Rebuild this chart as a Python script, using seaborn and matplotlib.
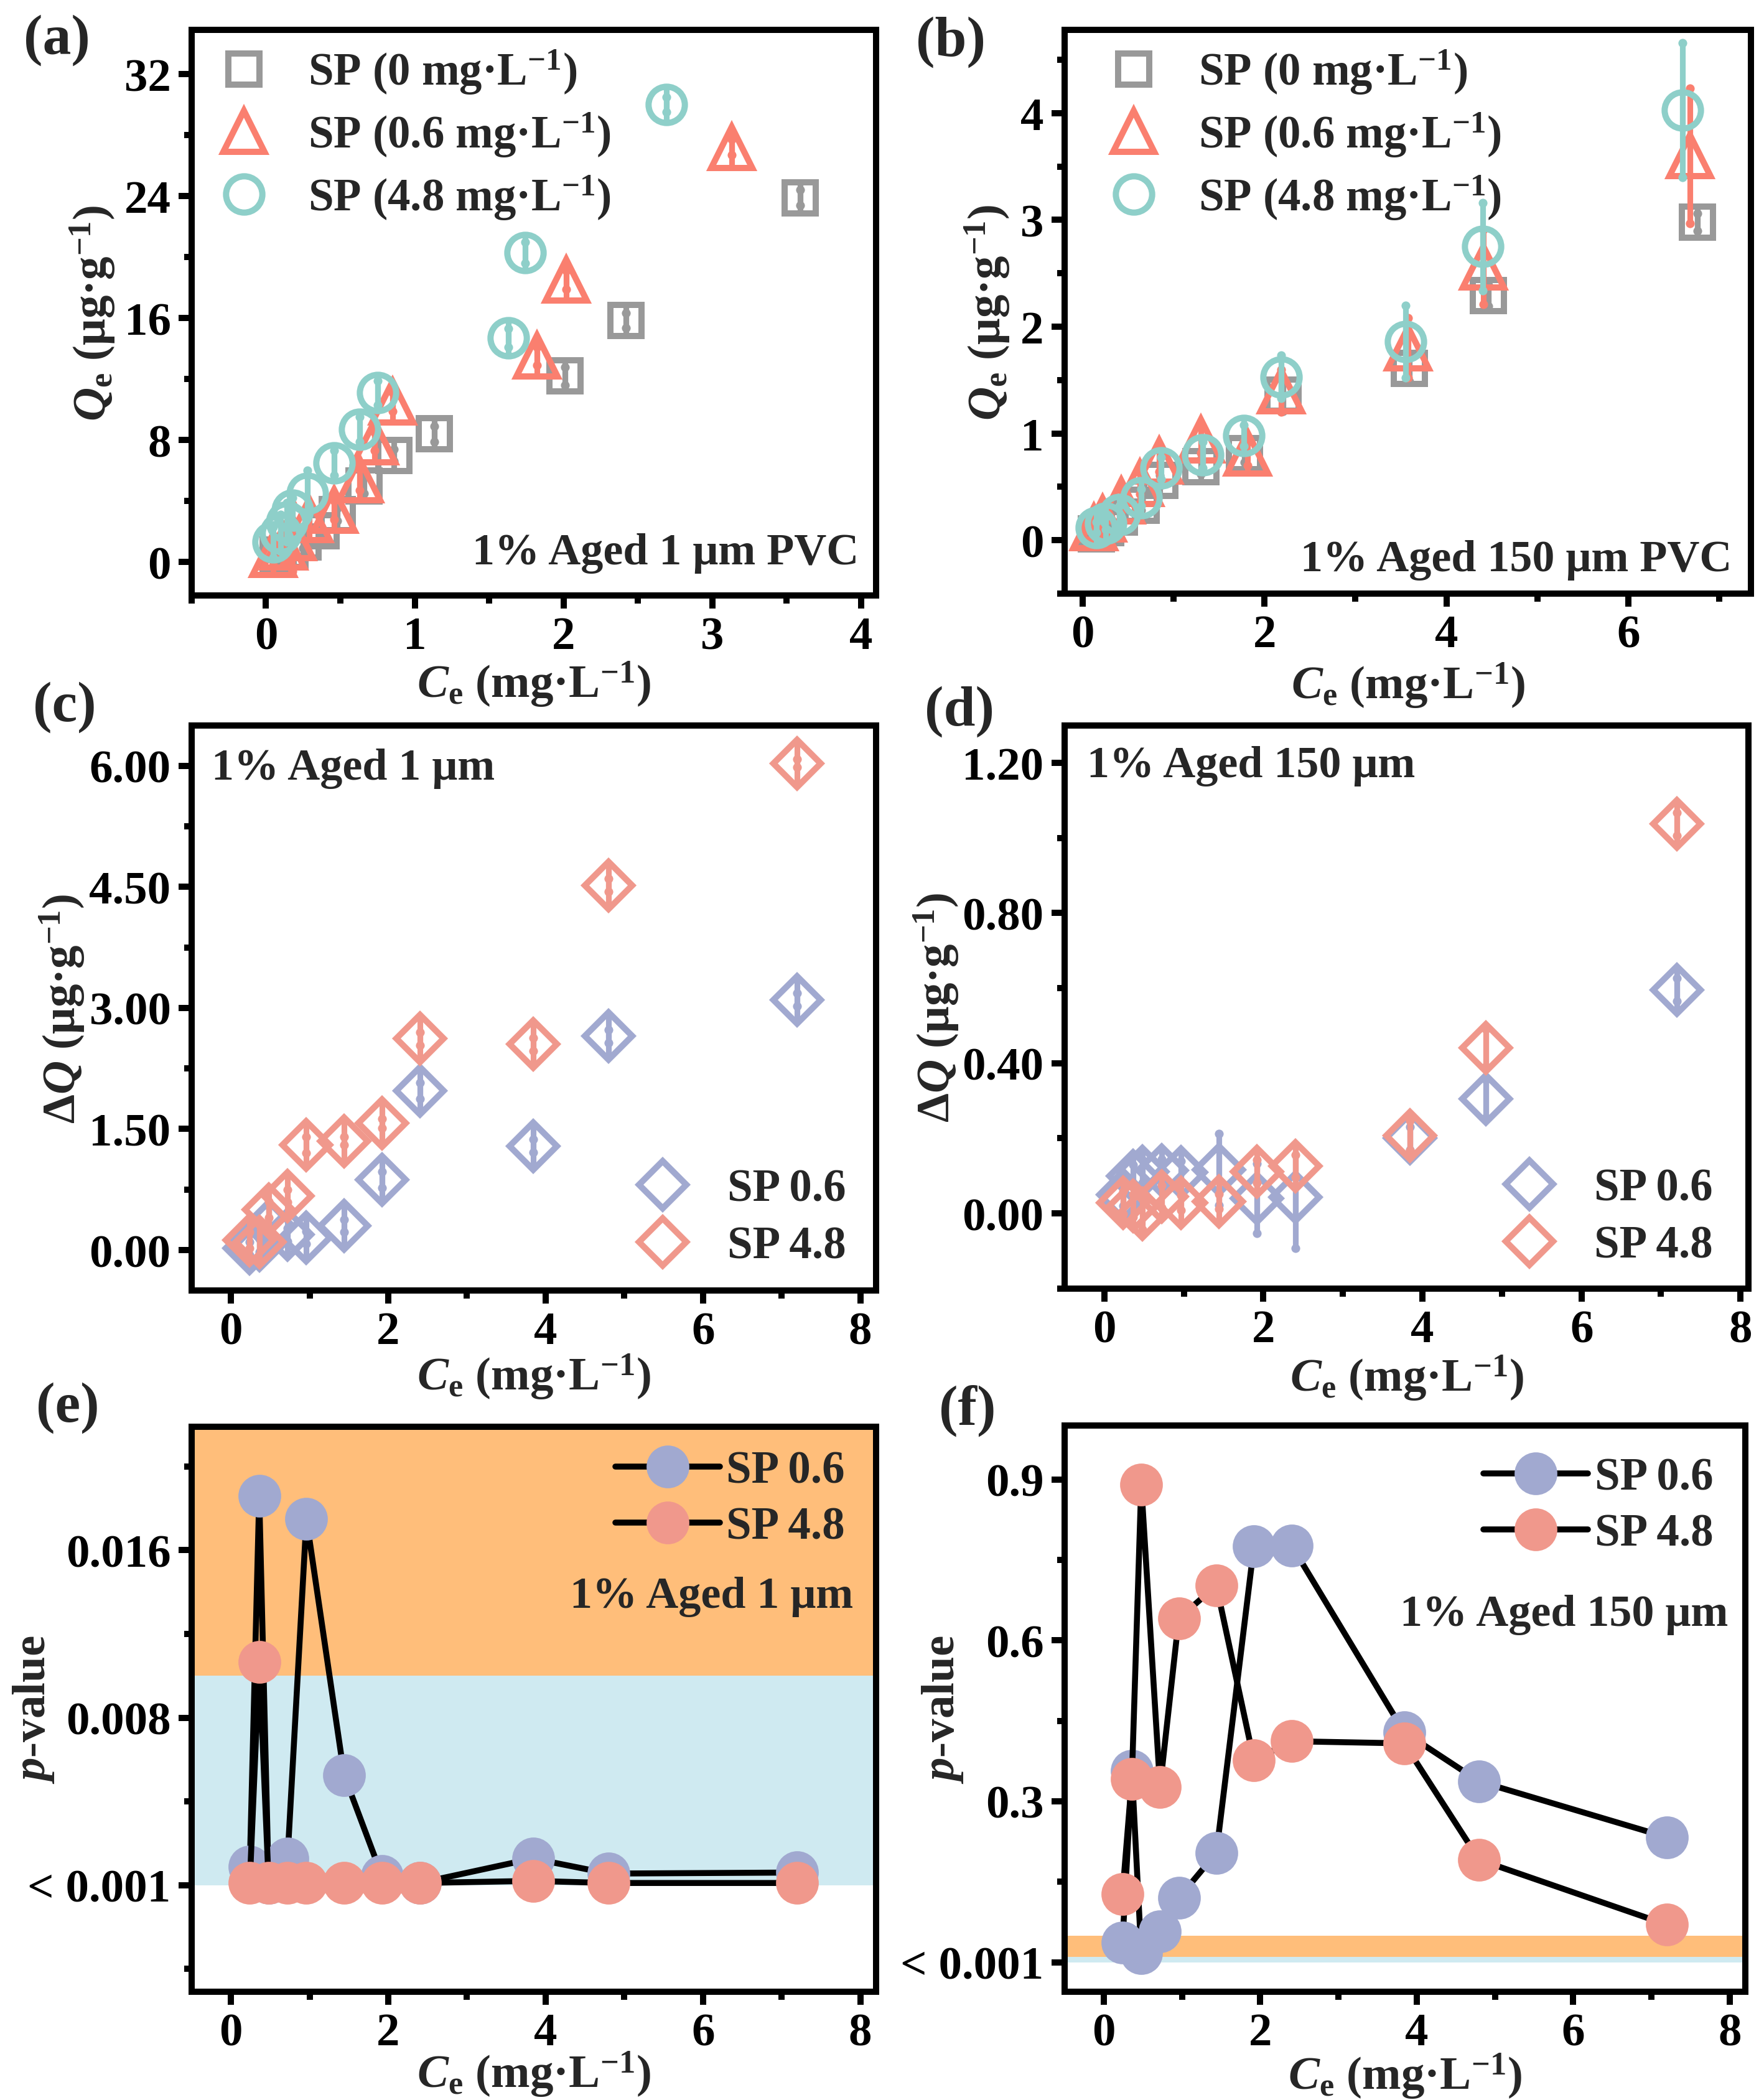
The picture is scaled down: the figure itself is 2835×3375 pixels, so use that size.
import numpy as np
import pandas as pd
import matplotlib
matplotlib.use('Agg')
import matplotlib.pyplot as plt
import seaborn as sns
from matplotlib.ticker import AutoMinorLocator, FixedLocator, FixedFormatter, MultipleLocator, FormatStrFormatter
from matplotlib.lines import Line2D

# ---------------- data ----------------
# (a) 1% aged 1 um PVC isotherms
a_x_sp0 = [0.08, 0.16, 0.25, 0.37, 0.48, 0.66, 0.86, 1.13, 2.01, 2.42, 3.59]
a_y_sp0 = [0.45, 0.7, 1.3, 2.05, 3.1, 5.0, 7.0, 8.4, 12.2, 15.85, 23.9]
a_e_sp0 = [0.3, 0.3, 0.4, 0.3, 0.4, 0.5, 0.4, 0.5, 0.6, 0.5, 0.5]
a_x_sp06 = [0.05, 0.12, 0.18, 0.29, 0.46, 0.63, 0.73, 0.85, 1.82, 2.02, 3.13]
a_y_sp06 = [0.5, 1.0, 1.6, 2.8, 3.4, 5.4, 7.9, 10.5, 13.5, 18.5, 27.2]
a_e_sp06 = [0.5, 1.2, 2.2, 0.6, 0.6, 0.7, 0.6, 0.6, 0.6, 0.6, 0.5]
a_x_sp48 = [0.05, 0.10, 0.14, 0.18, 0.28, 0.46, 0.63, 0.75, 1.63, 1.74, 2.69]
a_y_sp48 = [1.3, 1.9, 2.6, 3.4, 4.5, 6.5, 8.7, 11.1, 14.7, 20.3, 30.0]
a_e_sp48 = [1.0, 1.2, 1.3, 0.8, 1.5, 0.8, 0.8, 0.8, 0.6, 0.7, 0.5]

# (b) 1% aged 150 um PVC isotherms
b_x_sp0 = [0.15, 0.25, 0.40, 0.64, 0.85, 1.30, 1.78, 2.20, 3.59, 4.46, 6.76]
b_y_sp0 = [0.06, 0.12, 0.22, 0.33, 0.56, 0.69, 0.81, 1.36, 1.61, 2.29, 2.98]
b_e_sp0 = [0.02, 0.03, 0.05, 0.05, 0.05, 0.07, 0.08, 0.15, 0.12, 0.10, 0.08]
b_x_sp06 = [0.12, 0.22, 0.42, 0.63, 0.84, 1.30, 1.81, 2.18, 3.58, 4.41, 6.68]
b_y_sp06 = [0.12, 0.20, 0.37, 0.53, 0.74, 0.94, 0.82, 1.40, 1.80, 2.56, 3.60]
b_e_sp06 = [0.05, 0.08, 0.10, 0.10, 0.10, 0.12, 0.12, 0.20, 0.28, 0.35, 0.63]
b_x_sp48 = [0.15, 0.25, 0.40, 0.645, 0.86, 1.32, 1.77, 2.185, 3.55, 4.40, 6.60]
b_y_sp48 = [0.12, 0.16, 0.24, 0.40, 0.675, 0.80, 0.98, 1.53, 1.86, 2.75, 4.03]
b_e_sp48 = [0.05, 0.06, 0.08, 0.08, 0.10, 0.12, 0.10, 0.20, 0.34, 0.41, 0.63]

# (c)-(f) common concentrations
c0 = [0.24, 0.36, 0.48, 0.72, 0.96, 1.44, 1.92, 2.40, 3.84, 4.80, 7.20]

# (c) delta Q, 1 um
c_y_sp06 = [0.02, 0.06, 0.30, 0.19, 0.155, 0.30, 0.87, 1.97, 1.29, 2.65, 3.10]
c_e_sp06 = [0.08, 0.08, 0.25, 0.08, 0.08, 0.08, 0.10, 0.10, 0.08, 0.08, 0.08]
c_y_sp48 = [0.12, 0.10, 0.50, 0.67, 1.30, 1.35, 1.57, 2.62, 2.55, 4.52, 6.03]
c_e_sp48 = [0.10, 0.25, 0.10, 0.08, 0.10, 0.05, 0.06, 0.08, 0.08, 0.08, 0.05]

# (d) delta Q, 150 um
d_y_sp06 = [0.05, 0.10, 0.112, 0.114, 0.109, 0.117, 0.04, 0.043, 0.20, 0.306, 0.596]
d_e_sp06 = [0.03, 0.03, 0.03, 0.03, 0.03, 0.095, 0.093, 0.136, 0.03, 0.05, 0.03]
d_y_sp48 = [0.029, 0.02, -0.002, 0.045, 0.029, 0.032, 0.112, 0.126, 0.207, 0.441, 1.037]
d_e_sp48 = [0.03, 0.03, 0.04, 0.03, 0.02, 0.02, 0.03, 0.03, 0.04, 0.05, 0.03]

# (e) p-values, 1 um
e_p_sp06 = [0.00087, 0.0186, 0.0001, 0.00127, 0.0175, 0.00524, 0.00044, 0.0001, 0.00127, 0.00055, 0.0006]
e_p_sp48 = [0.0001, 0.01066, 0.0001, 0.0001, 0.0001, 0.0001, 0.0001, 0.0001, 0.0002, 0.0001, 0.0001]

# (f) p-values, 150 um
f_p_sp06 = [0.0365, 0.357, 0.017, 0.058, 0.12, 0.204, 0.775, 0.777, 0.429, 0.337, 0.233]
f_p_sp48 = [0.127, 0.342, 0.89, 0.327, 0.641, 0.702, 0.376, 0.412, 0.408, 0.191, 0.07]

# significance bands
band_low = [0.0, 0.01]
band_high = [0.01, 0.05]

# ---------------- style ----------------
C_GRAY = '#999999'
C_RED = '#FA7F6F'
C_TEAL = '#8ECFC9'
C_BLUE = '#A1A9D0'
C_PINK = '#F0988C'
C_BAND_BLUE = '#CFEAF1'
C_BAND_OR = '#FFBE7A'

sns.set_theme(style='ticks')
LW = 2.4
plt.rcParams.update({
    'font.family': ['Liberation Serif', 'DejaVu Serif'],
    'font.weight': 'bold',
    'axes.labelweight': 'bold',
    'mathtext.fontset': 'custom',
    'mathtext.rm': 'Liberation Serif:bold',
    'mathtext.it': 'Liberation Serif:italic:bold',
    'mathtext.bf': 'Liberation Serif:bold',
    'axes.edgecolor': 'black',
    'axes.linewidth': LW,
    'xtick.color': 'black',
    'ytick.color': 'black',
    'xtick.direction': 'out',
    'ytick.direction': 'out',
    'xtick.major.width': LW,
    'ytick.major.width': LW,
    'xtick.minor.width': LW,
    'ytick.minor.width': LW,
    'xtick.major.size': 5,
    'ytick.major.size': 5,
    'xtick.minor.size': 3,
    'ytick.minor.size': 3,
    'xtick.labelsize': 18,
    'ytick.labelsize': 18,
    'axes.labelsize': 18,
    'legend.fontsize': 17.5,
    'axes.facecolor': 'white',
})

fig = plt.figure(figsize=(9.45, 11.2533), dpi=300)
rects = {
    'a': [0.1086, 0.7162, 0.3880, 0.2693],
    'b': [0.6035, 0.7171, 0.3891, 0.2684],
    'c': [0.1086, 0.3854, 0.3880, 0.2690],
    'd': [0.6035, 0.3863, 0.3877, 0.2681],
    'e': [0.1086, 0.0515, 0.3880, 0.2690],
    'f': [0.6035, 0.0515, 0.3859, 0.2695],
}
axs = {k: fig.add_axes(v) for k, v in rects.items()}

XLAB = r'$\mathit{C}_\mathrm{e}$ (mg·L$^{-1}$)'
QLAB = r'$\mathit{Q}_\mathrm{e}$ (μg·g$^{-1}$)'
DQLAB = r'Δ$\mathit{Q}$ (μg·g$^{-1}$)'
PLAB = r'$\mathit{p}$-value'
ANN = 17.3


def series(ax, x, y, e, color, marker, ms, vms, z):
    x = np.asarray(x); y = np.asarray(y); e = np.asarray(e)
    ax.errorbar(x, y, yerr=e, fmt='none', ecolor=color, elinewidth=2.2,
                capsize=0, zorder=z)
    ax.plot(x, y + e, ls='none', marker='o', ms=3.4, color=color, mew=0, zorder=z)
    ax.plot(x, y - e, ls='none', marker='o', ms=3.4, color=color, mew=0, zorder=z)
    ax.plot(x, y, ls='none', marker='|', ms=vms, mew=2.2, color=color, zorder=z)
    ax.plot(x, y, ls='none', marker=marker, ms=ms, mfc='none', mec=color,
            mew=2.4, zorder=z + 0.1)


def style_axis(ax, ylx, xly):
    ax.xaxis.set_minor_locator(AutoMinorLocator(2))
    ax.yaxis.set_minor_locator(AutoMinorLocator(2))
    ax.tick_params(top=False, right=False, which='both', pad=3)
    for s in ax.spines.values():
        s.set_visible(True)
        s.set_linewidth(LW)
        s.set_color('black')
    for lab in ax.get_xticklabels() + ax.get_yticklabels():
        lab.set_fontweight('bold')
    ax.yaxis.label.set_va('center')
    ax.xaxis.label.set_va('center')
    ax.yaxis.set_label_coords(ylx, 0.5)
    ax.xaxis.set_label_coords(0.5, xly)


# ---- (a)
ax = axs['a']
series(ax, a_x_sp0, a_y_sp0, a_e_sp0, C_GRAY, 's', 12, 12, 3)
series(ax, a_x_sp06, a_y_sp06, a_e_sp06, C_RED, '^', 16, 16, 4)
series(ax, a_x_sp48, a_y_sp48, a_e_sp48, C_TEAL, 'o', 14, 14, 5)
ax.set_xlim(-0.5, 4.1)
ax.set_ylim(-2.2, 34.9)
ax.xaxis.set_major_locator(MultipleLocator(1))
ax.yaxis.set_major_locator(MultipleLocator(8))
ax.set_xlabel(XLAB)
ax.set_ylabel(QLAB)
ax.text(0.975, 0.075, '1% Aged 1 μm PVC', transform=ax.transAxes, ha='right',
        va='center', fontsize=ANN, fontweight='bold')

# ---- (b)
ax = axs['b']
series(ax, b_x_sp0, b_y_sp0, b_e_sp0, C_GRAY, 's', 12, 12, 3)
series(ax, b_x_sp06, b_y_sp06, b_e_sp06, C_RED, '^', 16, 16, 4)
series(ax, b_x_sp48, b_y_sp48, b_e_sp48, C_TEAL, 'o', 14, 14, 5)
ax.set_xlim(-0.2, 7.35)
ax.set_ylim(-0.5, 4.78)
ax.xaxis.set_major_locator(MultipleLocator(2))
ax.yaxis.set_major_locator(MultipleLocator(1))
ax.set_xlabel(XLAB)
ax.set_ylabel(QLAB)
ax.text(0.972, 0.06, '1% Aged 150 μm PVC', transform=ax.transAxes, ha='right',
        va='center', fontsize=ANN, fontweight='bold')

for k, anchor in (('a', (0.01, 0.985)), ('b', (0.035, 0.985))):
    h = [Line2D([], [], ls='none', marker='s', ms=12, mfc='none', mec=C_GRAY, mew=2.4),
         Line2D([], [], ls='none', marker='^', ms=16, mfc='none', mec=C_RED, mew=2.4),
         Line2D([], [], ls='none', marker='o', ms=14, mfc='none', mec=C_TEAL, mew=2.4)]
    labs = ['SP (0 mg·L$^{-1}$)', 'SP (0.6 mg·L$^{-1}$)', 'SP (4.8 mg·L$^{-1}$)']
    axs[k].legend(h, labs, loc='upper left', bbox_to_anchor=anchor, frameon=False,
                  handlelength=1.6, handletextpad=0.62, labelspacing=0.31,
                  borderaxespad=0, borderpad=0.2, prop={'weight': 'bold', 'size': 17.5})

# ---- (c)
ax = axs['c']
series(ax, c0, c_y_sp06, c_e_sp06, C_BLUE, 'D', 13, 18.4, 3)
series(ax, c0, c_y_sp48, c_e_sp48, C_PINK, 'D', 13, 18.4, 4)
ax.set_xlim(-0.5, 8.2)
ax.set_ylim(-0.5, 6.5)
ax.xaxis.set_major_locator(MultipleLocator(2))
ax.yaxis.set_major_locator(MultipleLocator(1.5))
ax.yaxis.set_major_formatter(FormatStrFormatter('%.2f'))
ax.set_xlabel(XLAB)
ax.set_ylabel(DQLAB)
ax.text(0.029, 0.924, '1% Aged 1 μm', transform=ax.transAxes, ha='left',
        va='center', fontsize=ANN, fontweight='bold')

# ---- (d)
ax = axs['d']
series(ax, c0, d_y_sp06, d_e_sp06, C_BLUE, 'D', 13, 18.4, 3)
series(ax, c0, d_y_sp48, d_e_sp48, C_PINK, 'D', 13, 18.4, 4)
ax.set_xlim(-0.5, 8.1)
ax.set_ylim(-0.2, 1.3)
ax.xaxis.set_major_locator(MultipleLocator(2))
ax.yaxis.set_major_locator(MultipleLocator(0.4))
ax.yaxis.set_major_formatter(FormatStrFormatter('%.2f'))
ax.set_xlabel(XLAB)
ax.set_ylabel(DQLAB)
ax.text(0.033, 0.928, '1% Aged 150 μm', transform=ax.transAxes, ha='left',
        va='center', fontsize=ANN, fontweight='bold')

for k, anchor in (('c', (0.969, 0.024)), ('d', (0.961, 0.022))):
    h = [Line2D([], [], ls='none', marker='D', ms=13, mfc='none', mec=C_BLUE, mew=2.4),
         Line2D([], [], ls='none', marker='D', ms=13, mfc='none', mec=C_PINK, mew=2.4)]
    axs[k].legend(h, ['SP 0.6', 'SP 4.8'], loc='lower right', bbox_to_anchor=anchor,
                  frameon=False, handlelength=1.6, handletextpad=0.62, labelspacing=0.33,
                  borderaxespad=0, borderpad=0.2, prop={'weight': 'bold', 'size': 17.5})

# ---- (e), (f)
for k, p06, p48, ylim, ticks, tlabs, txt, txy, lanchor in (
        ('e', e_p_sp06, e_p_sp48, (-0.0051, 0.0219), [0, 0.008, 0.016],
         ['< 0.001', '0.008', '0.016'], '1% Aged 1 μm', (0.967, 0.70), (0.968, 0.975)),
        ('f', f_p_sp06, f_p_sp48, (-0.055, 1.0), [0, 0.3, 0.6, 0.9],
         ['< 0.001', '0.3', '0.6', '0.9'], '1% Aged 150 μm', (0.975, 0.667), (0.966, 0.961))):
    ax = axs[k]
    for lo, hi, col in zip(band_low, band_high, [C_BAND_BLUE, C_BAND_OR]):
        ax.axhspan(lo, hi, color=col, lw=0, zorder=0)
    df = pd.DataFrame({'x': c0 * 2, 'p': list(p06) + list(p48),
                       'g': ['SP 0.6'] * len(c0) + ['SP 4.8'] * len(c0)})
    for g, col, z in (('SP 0.6', C_BLUE, 3), ('SP 4.8', C_PINK, 4)):
        sub = df[df['g'] == g]
        sns.lineplot(data=sub, x='x', y='p', ax=ax, sort=False, estimator=None,
                     color='black', lw=2.3, marker='o', markersize=16.5,
                     markerfacecolor=col, markeredgecolor=col, markeredgewidth=0,
                     zorder=z, legend=False)
    ax.set_xlim(-0.5, 8.2)
    ax.set_ylim(*ylim)
    ax.xaxis.set_major_locator(MultipleLocator(2))
    ax.yaxis.set_major_locator(FixedLocator(ticks))
    ax.yaxis.set_major_formatter(FixedFormatter(tlabs))
    ax.set_xlabel(XLAB)
    ax.set_ylabel(PLAB)
    ax.text(txy[0], txy[1], txt, transform=ax.transAxes, ha='right', va='center',
            fontsize=ANN, fontweight='bold')
    h = [Line2D([], [], color='black', lw=2.3, marker='o', ms=16.5, mfc=C_BLUE, mec=C_BLUE, mew=0),
         Line2D([], [], color='black', lw=2.3, marker='o', ms=16.5, mfc=C_PINK, mec=C_PINK, mew=0)]
    ax.legend(h, ['SP 0.6', 'SP 4.8'], loc='upper right', bbox_to_anchor=lanchor,
              frameon=False, handlelength=2.3, handletextpad=0.15, labelspacing=0.3,
              borderaxespad=0, borderpad=0.2, prop={'weight': 'bold', 'size': 17.5})

label_pos = {'a': (-0.144, -0.156), 'b': (-0.112, -0.162), 'c': (-0.189, -0.152),
             'd': (-0.187, -0.158), 'e': (-0.231, -0.146), 'f': (-0.179, -0.148)}
for k, ax in axs.items():
    style_axis(ax, *label_pos[k])

# panel labels
for k, (px, py) in {'a': (91, 65), 'b': (1528, 68), 'c': (104, 1137),
                    'd': (1542, 1144), 'e': (109, 2263), 'f': (1555, 2267)}.items():
    fig.text(px / 2835, 1 - py / 3376, f'({k})', ha='center', va='center',
             fontsize=22, fontweight='bold')

fig.savefig('out.png', dpi=300)
